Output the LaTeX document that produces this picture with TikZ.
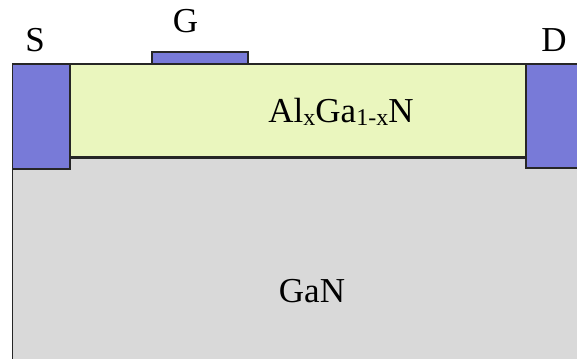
\documentclass[tikz,border=0pt]{standalone}
\usepackage{fontspec}
\setmainfont{Liberation Serif}
\definecolor{metal}{RGB}{120,122,216}
\definecolor{barrier}{RGB}{234,246,190}
\definecolor{buffer}{RGB}{217,217,217}
\newcommand{\subsc}[1]{{\fontsize{24}{24}\selectfont\raisebox{-2.5pt}{#1}}}
\begin{document}
\begin{tikzpicture}[x=1pt,y=1pt,
  layer/.style={draw=black!85,line width=1.3pt},
  lbl/.style={font=\fontsize{35}{35}\selectfont,anchor=base,inner sep=0pt}]
\useasboundingbox (0,0) rectangle (577,358);
% GaN buffer
\draw[layer,fill=buffer] (12.5,-5) rectangle (590,200);
% AlGaN barrier
\draw[layer,fill=barrier] (70,201) rectangle (526,294);
% contacts
\draw[layer,fill=metal] (12.5,189) rectangle (70,294);
\draw[layer,fill=metal] (526,190) rectangle (590,294);
\draw[layer,fill=metal] (152,294) rectangle (248,306);
% labels
\node[lbl] (s) at (35,306) {S};
\node[lbl] (g) at (185.5,325) {G};
\node[lbl] (d) at (554,306) {D};
\node[lbl] (algan) at (341,235) {Al\subsc{x}Ga\subsc{1-x}N};
\node[lbl] (gan) at (312,55) {GaN};
\end{tikzpicture}
\end{document}
